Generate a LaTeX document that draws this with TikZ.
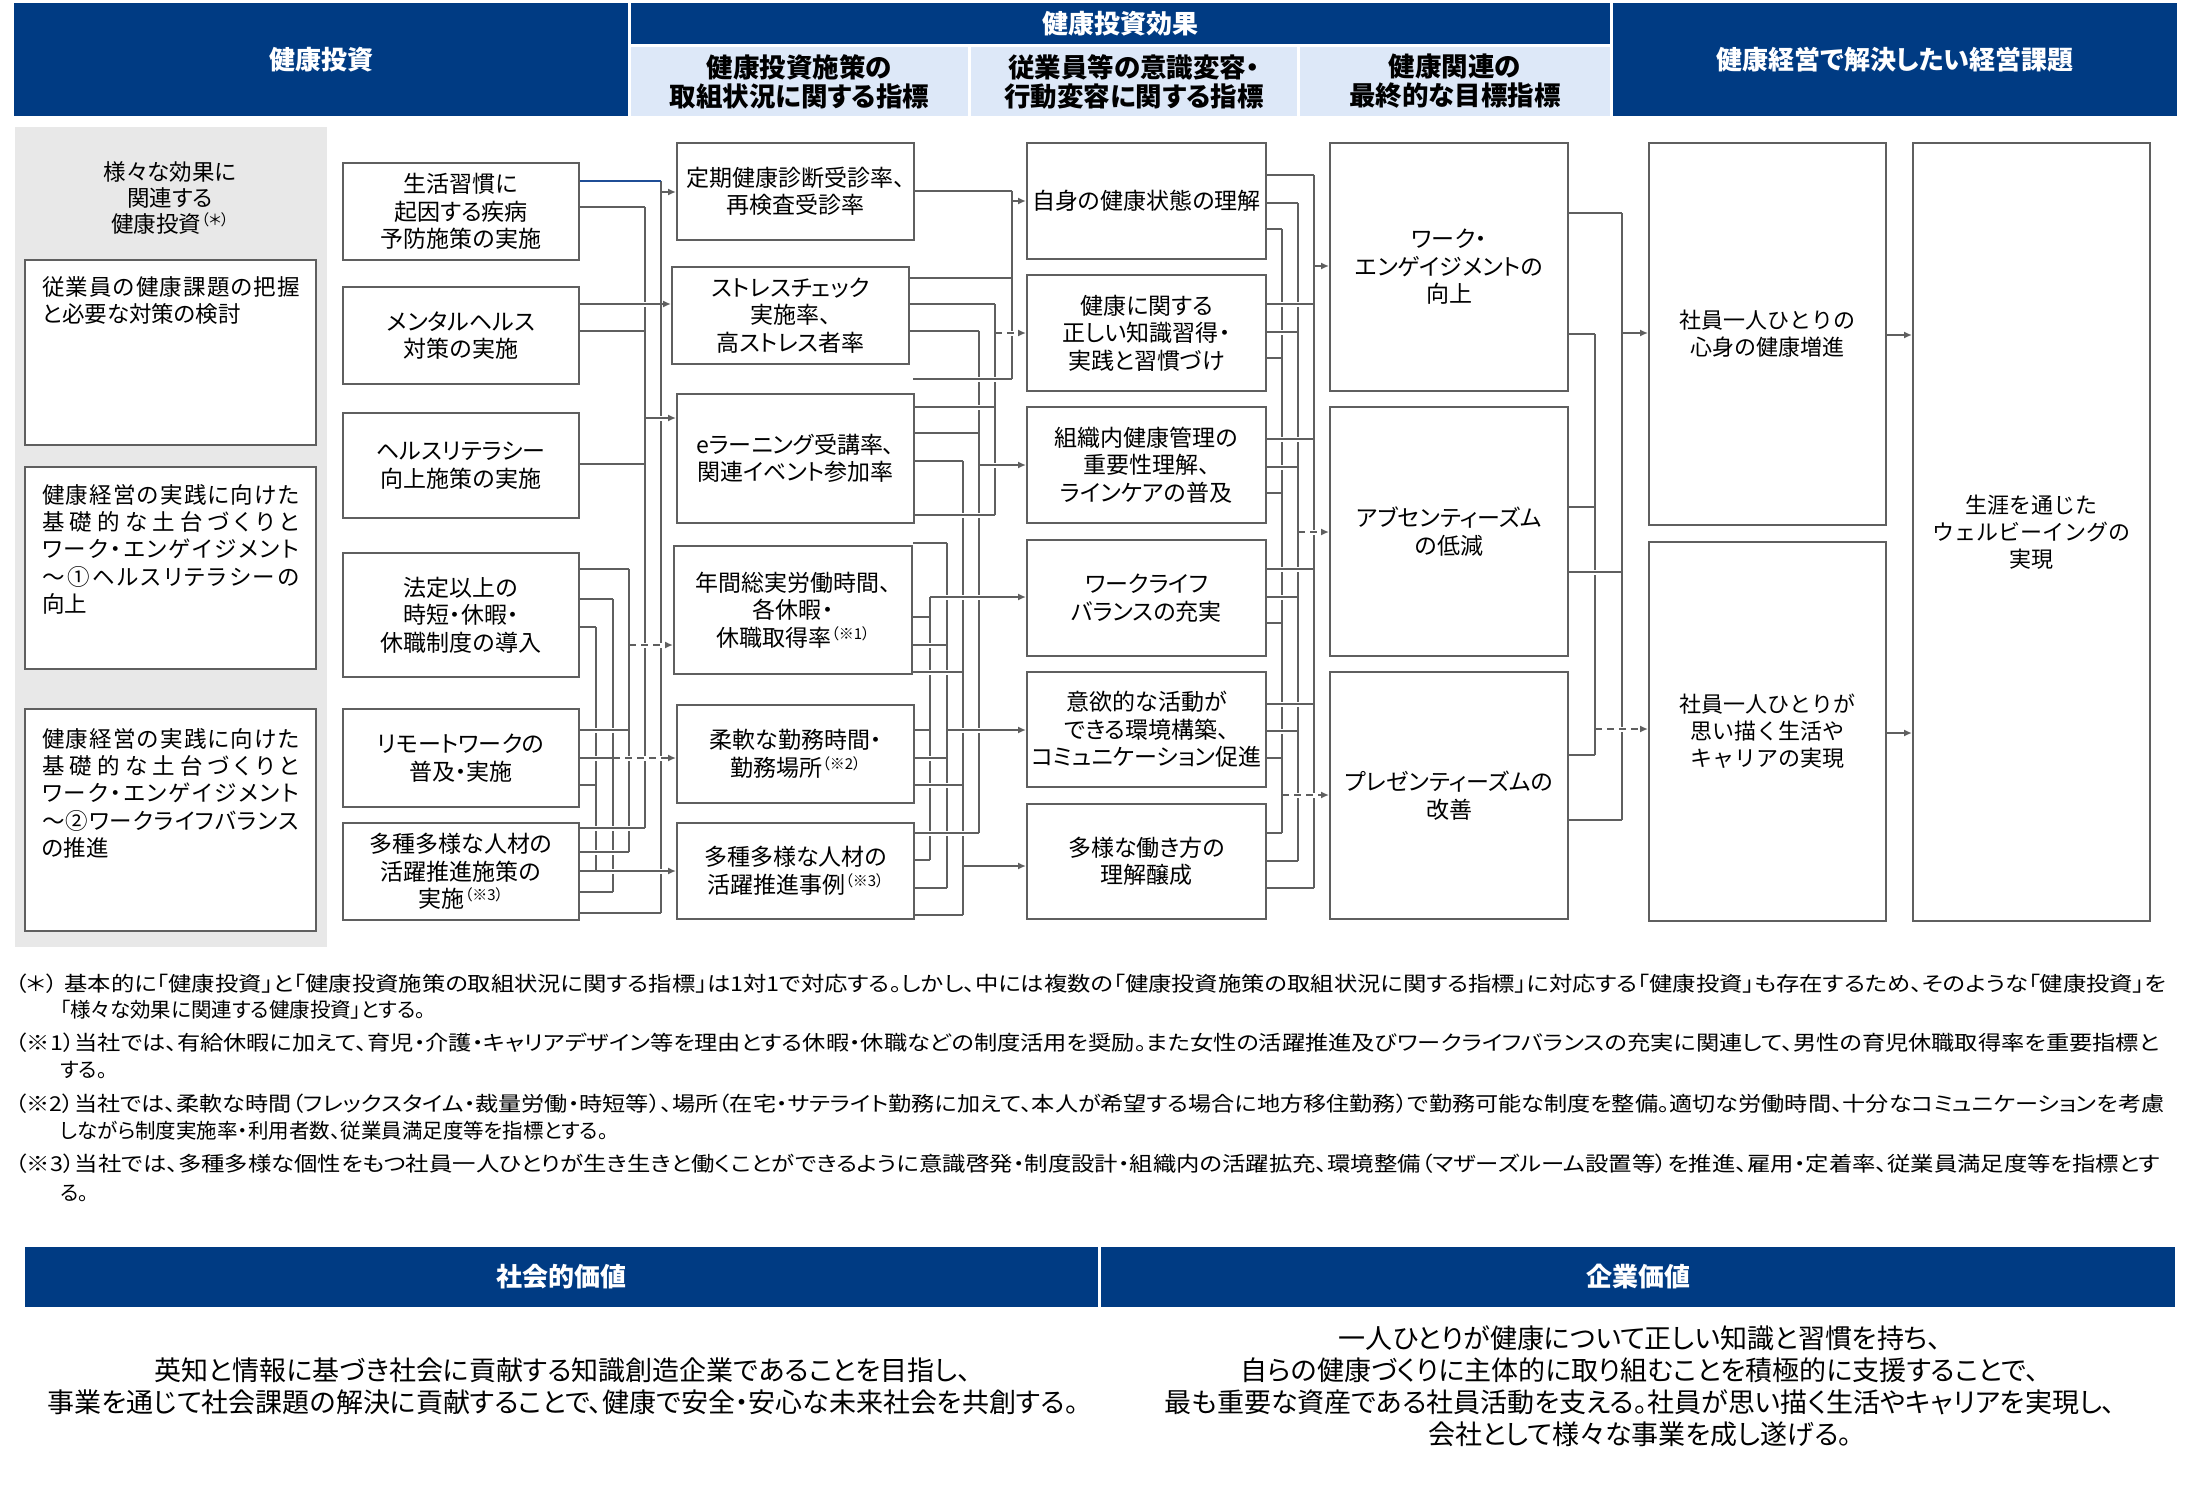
\documentclass[tikz,border=0pt]{standalone}
\usepackage{fontspec}
\usepackage{graphicx}
\setmainfont{Noto Sans CJK JP}[RawFeature=+palt]
\newfontfamily\widejp{Noto Sans CJK JP}
\usetikzlibrary{arrows.meta}
\definecolor{navy}{RGB}{0,59,131}
\definecolor{lblue}{RGB}{221,232,248}
\definecolor{panelg}{RGB}{232,232,232}
\definecolor{lineg}{RGB}{95,95,95}
\definecolor{bluel}{RGB}{31,78,150}
\ExplSyntaxOn
\NewDocumentCommand\jline{mm}{\mode_leave_vertical:\hbox_to_wd:nn{#1}{\tl_map_inline:nn{#2}{##1\hfil}\unskip}}
\ExplSyntaxOff
\newcommand\sups[1]{\raisebox{0.3em}{\fontsize{15bp}{15bp}\selectfont （#1）}}
\tikzset{
 bx/.style={draw=lineg,line width=2bp,fill=white,inner sep=0pt,align=center,font=\fontsize{23bp}{27.5bp}\selectfont},
 hd/.style={fill=navy,text=white,inner sep=0pt,align=center,font=\fontsize{26bp}{31bp}\selectfont\bfseries},
 hs/.style={fill=lblue,text=black,inner sep=0pt,align=center,font=\fontsize{26.5bp}{29bp}\selectfont\bfseries},
 lt/.style={inner sep=0pt,align=left,font=\fontsize{22.5bp}{27.3bp}\selectfont},
 fn/.style={inner sep=0pt,anchor=west,font=\fontsize{20.5bp}{24bp}\selectfont},
 btxt/.style={inner sep=0pt,align=center,font=\fontsize{27bp}{32bp}\selectfont},
 conn/.style={draw=lineg,line width=1.8bp},
 halo/.style={draw=white,line width=5bp,shorten <=3bp,shorten >=3bp},
 arr/.style={-{Latex[length=8bp,width=7bp]}},
 dsh/.style={dash pattern=on 7bp off 5bp},
}
% \bxx[opts]{x1}{y1}{x2}{y2}{name}{text}
\newcommand\bxx[7][]{\node[bx,#1,minimum width={(#4-#2)*1bp},minimum height={(#5-#3)*1bp}] (#6) at ({(#2+#4)/2},{(#3+#5)/2}) {#7};}
% \hcon[opts]{from}{to}{y}
\newcommand\hcon[4][]{\draw[halo](#2 |- 0,#4)--(#3 |- 0,#4);\draw[conn,#1](#2 |- 0,#4)--(#3 |- 0,#4);}
% \vcon{bus}{y1}{y2}
\newcommand\vcon[3]{\draw[conn](#1 |- 0,#2)--(#1 |- 0,#3);}
\begin{document}
\begin{tikzpicture}[x=1bp,y=-1bp]
\useasboundingbox (0,0) rectangle (2185,1486);
\fill[white] (0,0) rectangle (2185,1486);
% headers
\node[hd,minimum width=614bp,minimum height=113bp] (hInv) at (321,59.5) {健康投資};
\node[hd,minimum width=979bp,minimum height=41bp] (hEff) at (1120.5,23.5) {健康投資効果};
\node[hs,minimum width=337bp,minimum height=69bp] (hS1) at (799.5,81.5) {健康投資施策の\\取組状況に関する指標};
\node[hs,minimum width=326bp,minimum height=69bp] (hS2) at (1134,81.5) {従業員等の意識変容・\\行動変容に関する指標};
\node[hs,minimum width=310bp,minimum height=69bp] (hS3) at (1455,81.5) {健康関連の\\最終的な目標指標};
\node[hd,minimum width=564bp,minimum height=113bp] (hIss) at (1895,59.5) {健康経営で解決したい経営課題};
% grey panel
\node[fill=panelg,inner sep=0pt,minimum width=312bp,minimum height=820bp] (panel) at (171,537) {};
\node[inner sep=0pt,align=center,font=\fontsize{22.5bp}{26bp}\selectfont] (tPanel) at (170,198) {様々な効果に\\関連する\\健康投資\sups{＊}};
\bxx{25}{260}{316}{445}{pA}{}
\bxx{25}{467}{316}{669}{pB}{}
\bxx{25}{709}{316}{931}{pC}{}
\node[lt,anchor=north west] (tA) at (42,276) {\jline{258bp}{従業員の健康課題の把握}\\と必要な対策の検討};
\node[lt,anchor=north west] (tB) at (42,484) {\jline{257bp}{健康経営の実践に向けた}\\\jline{257bp}{基礎的な土台づくりと}\\\jline{257bp}{ワーク・エンゲイジメント}\\\jline{257bp}{～①ヘルスリテラシーの}\\向上};
\node[lt,anchor=north west] (tC) at (42,728) {\jline{257bp}{健康経営の実践に向けた}\\\jline{257bp}{基礎的な土台づくりと}\\\jline{257bp}{ワーク・エンゲイジメント}\\\jline{257bp}{～②ワークライフバランス}\\の推進};
% column 1
\bxx{343}{163}{579}{260}{n11}{生活習慣に\\起因する疾病\\予防施策の実施}
\bxx{343}{287}{579}{384}{n12}{メンタルヘルス\\対策の実施}
\bxx{343}{413}{579}{518}{n13}{ヘルスリテラシー\\向上施策の実施}
\bxx{343}{553}{579}{677}{n14}{法定以上の\\時短・休暇・\\休職制度の導入}
\bxx{343}{709}{579}{807}{n15}{リモートワークの\\普及・実施}
\bxx{343}{823}{579}{920}{n16}{多種多様な人材の\\活躍推進施策の\\実施\sups{※3}}
% column 2
\bxx{677}{143}{914}{240}{n21}{定期健康診断受診率、\\再検査受診率}
\bxx{672}{267}{909}{364}{n22}{ストレスチェック\\実施率、\\高ストレス者率}
\bxx{677}{394}{914}{523}{n23}{eラーニング受講率、\\関連イベント参加率}
\bxx{674}{546}{912}{674}{n24}{年間総実労働時間、\\各休暇・\\休職取得率\sups{※1}}
\bxx{677}{705}{914}{803}{n25}{柔軟な勤務時間・\\勤務場所\sups{※2}}
\bxx{677}{823}{914}{919}{n26}{多種多様な人材の\\活躍推進事例\sups{※3}}
% column 3
\bxx{1027}{143}{1266}{259}{n31}{自身の健康状態の理解}
\bxx{1027}{275}{1266}{391}{n32}{健康に関する\\正しい知識習得・\\実践と習慣づけ}
\bxx{1027}{407}{1266}{523}{n33}{組織内健康管理の\\重要性理解、\\ラインケアの普及}
\bxx{1027}{540}{1266}{656}{n34}{ワークライフ\\バランスの充実}
\bxx{1027}{672}{1266}{787}{n35}{意欲的な活動が\\できる環境構築、\\コミュニケーション促進}
\bxx{1027}{804}{1266}{919}{n36}{多様な働き方の\\理解醸成}
% column 4
\bxx{1330}{143}{1568}{391}{n41}{ワーク・\\エンゲイジメントの\\向上}
\bxx{1330}{407}{1568}{656}{n42}{アブセンティーズム\\の低減}
\bxx{1330}{672}{1568}{919}{n43}{プレゼンティーズムの\\改善}
% column 5, 6
\bxx[font=\widejp\fontsize{22bp}{27bp}\selectfont]{1649}{143}{1886}{525}{n51}{社員一人ひとりの\\心身の健康増進}
\bxx[font=\widejp\fontsize{22bp}{27bp}\selectfont]{1649}{542}{1886}{921}{n52}{社員一人ひとりが\\思い描く生活や\\キャリアの実現}
\bxx[font=\widejp\fontsize{22bp}{27bp}\selectfont]{1913}{143}{2150}{921}{n61}{生涯を通じた\\ウェルビーイングの\\実現}
% bus coordinates
\foreach \xb in {596,613,629,645,661,930,947,963,979,995,1012,1282,1298,1314,1595,1622}{\coordinate (k\xb) at (\xb,0);}
\coordinate (f379) at (913,379);
% ---- col1 -> col2
\vcon{k661}{181}{913}
\vcon{k645}{207}{828}
\vcon{k629}{569}{852}
\vcon{k613}{599}{892}
\vcon{k596}{627}{871}
\hcon[draw=bluel]{n11.east}{k661}{181}
\hcon{n11.east}{k645}{207}
\hcon{n12.east}{k661}{304}
\hcon{n12.east}{k645}{331}
\hcon{n13.east}{k645}{464}
\hcon{n14.east}{k629}{569}
\hcon{n14.east}{k613}{599}
\hcon{n14.east}{k596}{627}
\hcon{n15.east}{k629}{730}
\hcon{n15.east}{k613}{758}
\hcon{n15.east}{k596}{785}
\hcon{n16.east}{k645}{828}
\hcon{n16.east}{k629}{852}
\hcon{n16.east}{k596}{871}
\hcon{n16.east}{k613}{892}
\hcon{n16.east}{k661}{913}
\hcon[arr]{k661}{n21.west}{192}
\hcon[arr]{k661}{n22.west}{304}
\hcon[arr]{k645}{n23.west}{418}
\hcon[arr,dsh]{k629}{n24.west}{645}
\hcon[arr,dsh]{k613}{n25.west}{758}
\hcon[arr]{k596}{n26.west}{871}
% ---- col2 -> col3
\vcon{k1012}{191}{379}
\vcon{k995}{304}{515}
\vcon{k979}{331}{833}
\vcon{k963}{461}{915}
\vcon{k947}{543}{888}
\vcon{k930}{597}{860}
\hcon{n21.east}{k1012}{191}
\hcon{n22.east}{k1012}{278}
\hcon{n22.east}{k995}{304}
\hcon{n22.east}{k979}{331}
\hcon{f379}{k1012}{379}
\hcon{n23.east}{k995}{407}
\hcon{n23.east}{k979}{433}
\hcon{n23.east}{k963}{461}
\hcon{n23.east}{k995}{515}
\hcon{n24.east}{k947}{543}
\hcon{n24.east}{k930}{617}
\hcon{n24.east}{k947}{645}
\hcon{n24.east}{k963}{672}
\hcon{n25.east}{k930}{730}
\hcon{n25.east}{k947}{758}
\hcon{n25.east}{k963}{785}
\hcon{n26.east}{k979}{833}
\hcon{n26.east}{k930}{860}
\hcon{n26.east}{k947}{888}
\hcon{n26.east}{k963}{915}
\hcon[arr]{k1012}{n31.west}{201}
\hcon[arr,dsh]{k995}{n32.west}{333}
\hcon[arr]{k979}{n33.west}{465}
\hcon[arr]{k930}{n34.west}{597}
\hcon[arr]{k947}{n35.west}{730}
\hcon[arr]{k963}{n36.west}{866}
% ---- col3 -> col4
\vcon{k1314}{175}{888}
\vcon{k1298}{203}{861}
\vcon{k1282}{229}{833}
\hcon{n31.east}{k1314}{175}
\hcon{n31.east}{k1298}{203}
\hcon{n31.east}{k1282}{229}
\hcon{n32.east}{k1314}{304}
\hcon{n32.east}{k1298}{332}
\hcon{n32.east}{k1282}{358}
\hcon{n33.east}{k1314}{439}
\hcon{n33.east}{k1298}{467}
\hcon{n33.east}{k1282}{493}
\hcon{n34.east}{k1314}{569}
\hcon{n34.east}{k1298}{597}
\hcon{n34.east}{k1282}{623}
\hcon{n35.east}{k1314}{704}
\hcon{n35.east}{k1298}{731}
\hcon{n35.east}{k1282}{758}
\hcon{n36.east}{k1282}{833}
\hcon{n36.east}{k1298}{861}
\hcon{n36.east}{k1314}{888}
\hcon[arr]{k1314}{n41.west}{266}
\hcon[arr,dsh]{k1298}{n42.west}{532}
\hcon[arr,dsh]{k1282}{n43.west}{795}
% ---- col4 -> col5
\vcon{k1622}{213}{820}
\vcon{k1595}{334}{755}
\hcon{n41.east}{k1622}{213}
\hcon{n41.east}{k1595}{334}
\hcon{n42.east}{k1595}{507}
\hcon{n42.east}{k1622}{572}
\hcon{n43.east}{k1595}{755}
\hcon{n43.east}{k1622}{820}
\hcon[arr]{k1622}{n51.west}{333}
\hcon[arr,dsh]{k1595}{n52.west}{729}
% ---- col5 -> col6
\hcon[arr]{n51.east}{n61.west}{335}
\hcon[arr]{n52.east}{n61.west}{733}
% ---- footnotes
\node[fn] (fn1a) at (15,984) {\resizebox{2151bp}{\height}{（＊）\hspace{6bp}基本的に「健康投資」と「健康投資施策の取組状況に関する指標」は1対1で対応する。しかし、中には複数の「健康投資施策の取組状況に関する指標」に対応する「健康投資」も存在するため、そのような「健康投資」を}};
\node[fn] (fn1b) at (60,1010) {「様々な効果に関連する健康投資」とする。};
\node[fn] (fn2a) at (15,1043) {\resizebox{2144bp}{\height}{（※1）当社では、有給休暇に加えて、育児・介護・キャリアデザイン等を理由とする休暇・休職などの制度活用を奨励。また女性の活躍推進及びワークライフバランスの充実に関連して、男性の育児休職取得率を重要指標と}};
\node[fn] (fn2b) at (60,1070) {する。};
\node[fn] (fn3a) at (15,1104) {\resizebox{2149bp}{\height}{（※2）当社では、柔軟な時間（フレックスタイム・裁量労働・時短等）、場所（在宅・サテライト勤務に加えて、本人が希望する場合に地方移住勤務）で勤務可能な制度を整備。適切な労働時間、十分なコミュニケーションを考慮}};
\node[fn] (fn3b) at (60,1131) {しながら制度実施率・利用者数、従業員満足度等を指標とする。};
\node[fn] (fn4a) at (15,1164) {\resizebox{2145bp}{\height}{（※3）当社では、多種多様な個性をもつ社員一人ひとりが生き生きと働くことができるように意識啓発・制度設計・組織内の活躍拡充、環境整備（マザーズルーム設置等）を推進、雇用・定着率、従業員満足度等を指標とす}};
\node[fn] (fn4b) at (60,1193) {る。};
% ---- bottom
\node[hd,minimum width=1073bp,minimum height=60bp] (bSoc) at (561.5,1277) {社会的価値};
\node[hd,minimum width=1074bp,minimum height=60bp] (bCorp) at (1638,1277) {企業価値};
\node[btxt] (tSoc) at (563,1386) {英知と情報に基づき社会に貢献する知識創造企業であることを目指し、\\事業を通じて社会課題の解決に貢献することで、健康で安全・安心な未来社会を共創する。};
\node[btxt] (tCorp) at (1640,1386) {一人ひとりが健康について正しい知識と習慣を持ち、\\自らの健康づくりに主体的に取り組むことを積極的に支援することで、\\最も重要な資産である社員活動を支える。社員が思い描く生活やキャリアを実現し、\\会社として様々な事業を成し遂げる。};
\end{tikzpicture}
\end{document}
